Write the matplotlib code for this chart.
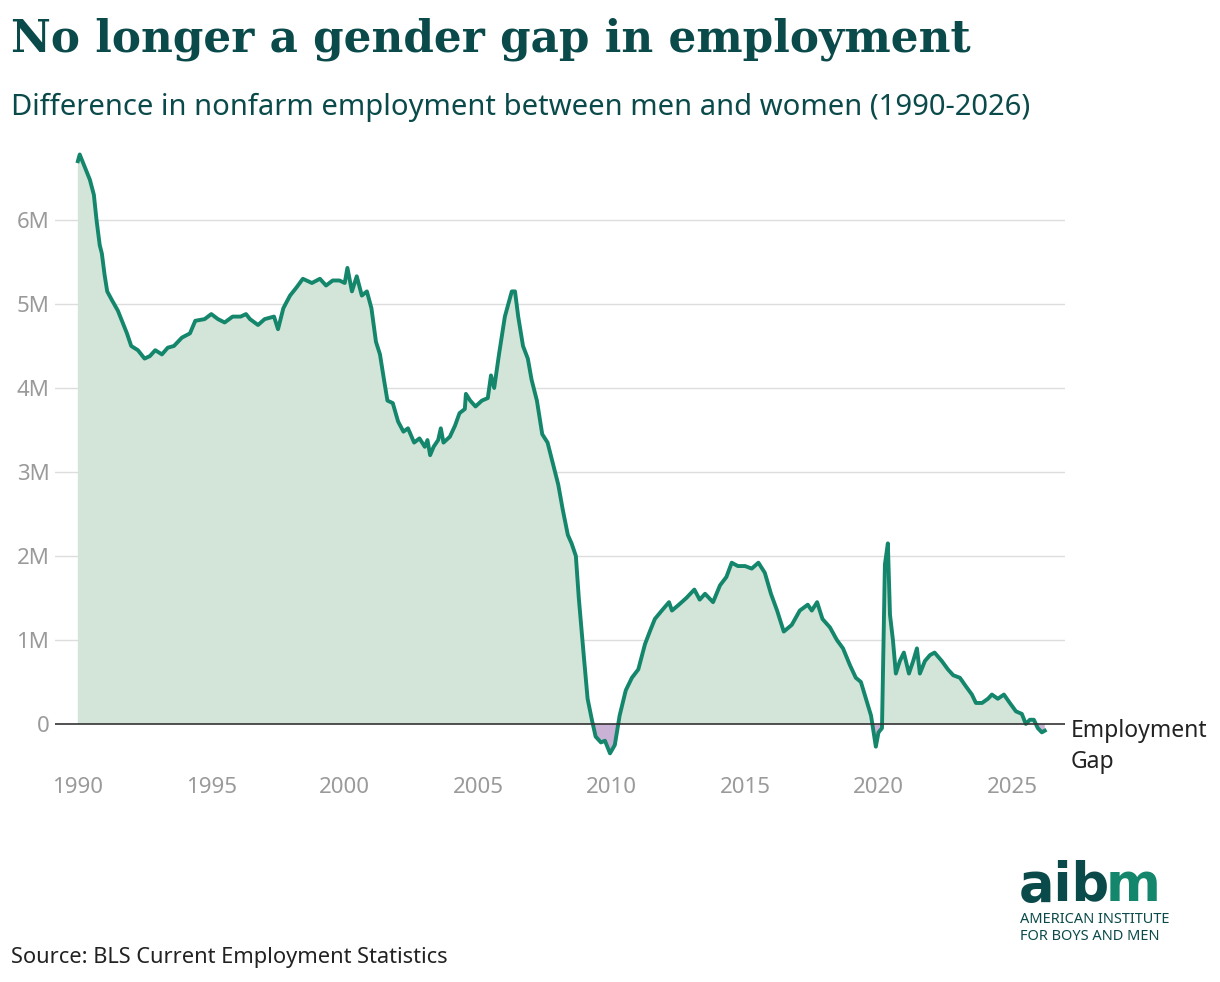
import numpy as np
import matplotlib
matplotlib.use("Agg")
import matplotlib.pyplot as plt

# Gap (men minus women), millions
years = [1990.0, 1990.07, 1990.3, 1990.45, 1990.6, 1990.7, 1990.82, 1990.9, 1991.0, 1991.1,
         1991.27, 1991.5, 1991.65, 1991.84, 1992.0, 1992.25, 1992.5, 1992.7, 1992.9, 1993.15,
         1993.37, 1993.6, 1993.9, 1994.2, 1994.4, 1994.75, 1995.0, 1995.25, 1995.5, 1995.8,
         1996.1, 1996.3, 1996.45, 1996.75, 1997.0, 1997.35, 1997.5, 1997.7, 1997.95, 1998.2,
         1998.43, 1998.77, 1999.07, 1999.3, 1999.55, 1999.8, 2000.0, 2000.1, 2000.27, 2000.45,
         2000.64, 2000.83, 2001.0, 2001.17, 2001.32, 2001.47, 2001.6, 2001.8, 2002.0, 2002.2,
         2002.37, 2002.6, 2002.8, 2003.0, 2003.1, 2003.2, 2003.33, 2003.5, 2003.6, 2003.7,
         2003.94, 2004.13, 2004.3, 2004.5, 2004.54, 2004.7, 2004.9, 2005.14, 2005.36, 2005.48,
         2005.6, 2005.78, 2006.0, 2006.26, 2006.38, 2006.5, 2006.68, 2006.86, 2007.0, 2007.2,
         2007.4, 2007.6, 2007.8, 2008.0, 2008.17, 2008.36, 2008.5, 2008.66, 2008.77, 2008.96,
         2009.1, 2009.26, 2009.4, 2009.6, 2009.75, 2009.94, 2010.12, 2010.3, 2010.53, 2010.76,
         2011.0, 2011.25, 2011.43, 2011.62, 2011.88, 2012.15, 2012.26, 2012.52, 2012.8, 2013.1,
         2013.3, 2013.5, 2013.8, 2014.06, 2014.3, 2014.5, 2014.73, 2015.0, 2015.25, 2015.5,
         2015.74, 2015.97, 2016.2, 2016.45, 2016.75, 2017.05, 2017.35, 2017.5, 2017.7, 2017.9,
         2018.18, 2018.44, 2018.67, 2018.93, 2019.15, 2019.34, 2019.53, 2019.72, 2019.9, 2020.0,
         2020.13, 2020.24, 2020.35, 2020.43, 2020.54, 2020.65, 2020.8, 2020.95, 2021.14, 2021.3,
         2021.44, 2021.55, 2021.74, 2021.93, 2022.1, 2022.37, 2022.6, 2022.8, 2023.05, 2023.27,
         2023.5, 2023.65, 2023.88, 2024.1, 2024.25, 2024.47, 2024.7, 2024.92, 2025.15, 2025.37,
         2025.52, 2025.67, 2025.82, 2025.97, 2026.12, 2026.23]
gap = [6.7, 6.78, 6.6, 6.48, 6.3, 6.0, 5.7, 5.6, 5.35, 5.15,
       5.05, 4.92, 4.8, 4.65, 4.5, 4.45, 4.35, 4.38, 4.45, 4.4,
       4.48, 4.5, 4.6, 4.65, 4.8, 4.82, 4.88, 4.82, 4.78, 4.85,
       4.85, 4.88, 4.82, 4.75, 4.82, 4.85, 4.7, 4.95, 5.1, 5.2,
       5.3, 5.25, 5.3, 5.22, 5.28, 5.28, 5.25, 5.43, 5.15, 5.33,
       5.1, 5.15, 4.95, 4.55, 4.4, 4.1, 3.85, 3.82, 3.6, 3.48,
       3.52, 3.35, 3.4, 3.3, 3.38, 3.2, 3.3, 3.38, 3.52, 3.35,
       3.42, 3.55, 3.7, 3.75, 3.93, 3.85, 3.78, 3.85, 3.88, 4.15,
       4.0, 4.4, 4.85, 5.15, 5.15, 4.85, 4.5, 4.35, 4.1, 3.85,
       3.45, 3.35, 3.1, 2.85, 2.55, 2.25, 2.15, 2.0, 1.5, 0.8,
       0.3, 0.05, -0.15, -0.22, -0.2, -0.35, -0.25, 0.1, 0.4, 0.55,
       0.65, 0.95, 1.1, 1.25, 1.35, 1.45, 1.35, 1.42, 1.5, 1.6,
       1.48, 1.55, 1.45, 1.65, 1.75, 1.92, 1.88, 1.88, 1.85, 1.92,
       1.8, 1.55, 1.35, 1.1, 1.18, 1.35, 1.42, 1.35, 1.45, 1.25,
       1.15, 1.0, 0.9, 0.7, 0.55, 0.5, 0.3, 0.1, -0.27, -0.1,
       -0.05, 1.9, 2.15, 1.3, 1.0, 0.6, 0.75, 0.85, 0.6, 0.75,
       0.9, 0.6, 0.75, 0.82, 0.85, 0.75, 0.65, 0.58, 0.55, 0.45,
       0.35, 0.25, 0.25, 0.3, 0.35, 0.3, 0.35, 0.25, 0.15, 0.12,
       0.0, 0.05, 0.05, -0.05, -0.1, -0.08]
tick_years = [1990, 1995, 2000, 2005, 2010, 2015, 2020, 2025]
tick_vals = [0, 1, 2, 3, 4, 5, 6]
tick_labels = ["0", "1M", "2M", "3M", "4M", "5M", "6M"]

DARK = "#0b4a4a"
LINE = "#13866b"
GREY = "#9a9a9a"
plt.rcParams["font.family"] = ["Noto Sans", "DejaVu Sans"]

x = np.array(years)
y = np.array(gap)

fig = plt.figure(figsize=(12.2, 9.82), dpi=100)
ax = fig.add_axes([0.045, 0.22, 0.828, 0.6415])
ax.fill_between(x, y, 0, where=y >= 0, interpolate=True, color="#d3e4d9", lw=0)
ax.fill_between(x, y, 0, where=y < 0, interpolate=True, color="#c9b2d6", lw=0)
ax.plot(x, y, color=LINE, lw=2.8, solid_joinstyle="round")
ax.axhline(0, color="#333333", lw=1.2)
for v in tick_vals[1:]:
    ax.axhline(v, color="#dddddd", lw=1, zorder=0)
ax.set_xlim(1989.14, 2026.99)
ax.set_ylim(-0.5, 7)
ax.set_xticks(tick_years)
ax.set_xticklabels([str(t) for t in tick_years], fontsize=16, color=GREY)
ax.set_yticks(tick_vals)
ax.set_yticklabels(tick_labels, fontsize=16, color=GREY)
ax.tick_params(length=0, pad=8)
ax.tick_params(axis="y", pad=4)
for s in ax.spines.values():
    s.set_visible(False)
ax.text(2027.2, -0.27, "Employment\nGap", fontsize=16.5, color="#222222",
        va="center", ha="left", linespacing=1.35, clip_on=False)

fig.text(0.009, 0.96, "No longer a gender gap in employment", fontsize=31.5,
         fontweight="bold", family="DejaVu Serif", color=DARK, va="center")
fig.text(0.009, 0.891, "Difference in nonfarm employment between men and women (1990-2026)",
         fontsize=21, color=DARK, va="center")
fig.text(0.009, 0.025, "Source: BLS Current Employment Statistics", fontsize=15.7,
         color="#222222", va="center")
# logo
fig.text(0.835, 0.082, "aib", fontsize=38, fontweight="bold", family="DejaVu Sans",
         color=DARK, va="baseline")
fig.text(0.906, 0.082, "m", fontsize=38, fontweight="bold", family="DejaVu Sans",
         color=LINE, va="baseline")
fig.text(0.836, 0.064, "AMERICAN INSTITUTE", fontsize=10.5, color=DARK, va="center")
fig.text(0.836, 0.046, "FOR BOYS AND MEN", fontsize=10.5, color=DARK, va="center")

fig.savefig("out.png", dpi=100)
